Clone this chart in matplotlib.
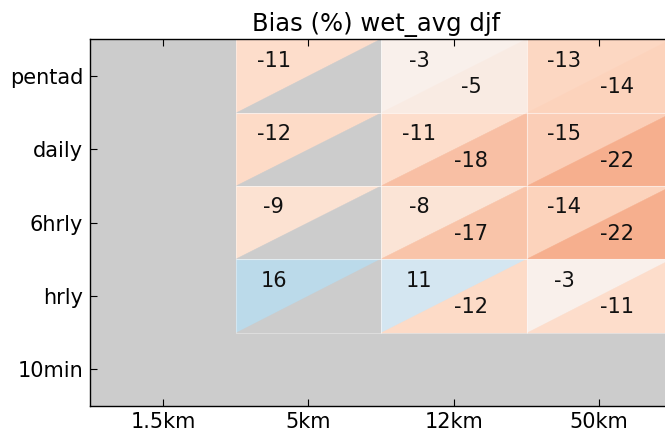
import numpy as np
import matplotlib
matplotlib.use("Agg")
import matplotlib.pyplot as plt
from matplotlib.patches import Polygon, Rectangle
from matplotlib.colors import Normalize

resolutions = ['1.5km', '5km', '12km', '50km']
durations = ['pentad', 'daily', '6hrly', 'hrly', '10min']
nan = np.nan
upper_vals = [
    [nan, -11, -3, -13],
    [nan, -12, -11, -15],
    [nan, -9, -8, -14],
    [nan, 16, 11, -3],
    [nan, nan, nan, nan],
]
lower_vals = [
    [nan, nan, -5, -14],
    [nan, nan, -18, -22],
    [nan, nan, -17, -22],
    [nan, nan, -12, -11],
    [nan, nan, nan, nan],
]

missing = '#cccccc'
cmap = plt.get_cmap('RdBu')
norm = Normalize(vmin=-60, vmax=60)

fig = plt.figure(figsize=(6.65, 4.33), dpi=100)
ax = fig.add_axes([90.3 / 665, 1 - 406 / 433, (671.9 - 90.3) / 665, 366.7 / 433])
ax.set_facecolor(missing)

for r in range(len(durations)):
    for c in range(len(resolutions)):
        u = upper_vals[r][c]
        l = lower_vals[r][c]
        if np.isnan(u) and np.isnan(l):
            continue
        x0, x1 = c - 0.5, c + 0.5
        y0, y1 = r - 0.5, r + 0.5
        ucol = missing if np.isnan(u) else cmap(norm(u))
        lcol = missing if np.isnan(l) else cmap(norm(l))
        ax.add_patch(Rectangle((x0, y0), 1, 1, facecolor=ucol,
                               edgecolor='none', zorder=1))
        ax.add_patch(Polygon([(x1, y0), (x1, y1), (x0, y1)], closed=True,
                             facecolor=lcol, edgecolor=lcol, linewidth=0.3,
                             zorder=1.5))
        ax.add_patch(Rectangle((x0, y0), 1, 1, facecolor='none',
                               edgecolor=(1, 1, 1, 0.35), linewidth=0.8, zorder=2))
        if not np.isnan(u):
            ax.text(x0 + 0.26, y0 + 0.29, f"{int(u)}", ha='center', va='center',
                    fontsize=15, color='#111111', zorder=4)
        if not np.isnan(l):
            ax.text(x0 + 0.62, y0 + 0.655, f"{int(l)}", ha='center', va='center',
                    fontsize=15, color='#111111', zorder=4)

ax.set_xlim(-0.5, len(resolutions) - 0.5)
ax.set_ylim(len(durations) - 0.5, -0.5)
ax.set_xticks(range(len(resolutions)))
ax.set_xticklabels(resolutions)
ax.set_yticks(range(len(durations)))
ax.set_yticklabels(durations)
ax.tick_params(direction='in', length=5, width=0.8, top=True, right=True,
               labelsize=15)
ax.tick_params(axis='x', pad=4)
ax.tick_params(axis='y', pad=5)
for s in ax.spines.values():
    s.set_linewidth(1.0)
ax.set_title('Bias (%) wet_avg djf', fontsize=17.5, pad=6, x=0.492)

fig.savefig('out.png', dpi=100)
